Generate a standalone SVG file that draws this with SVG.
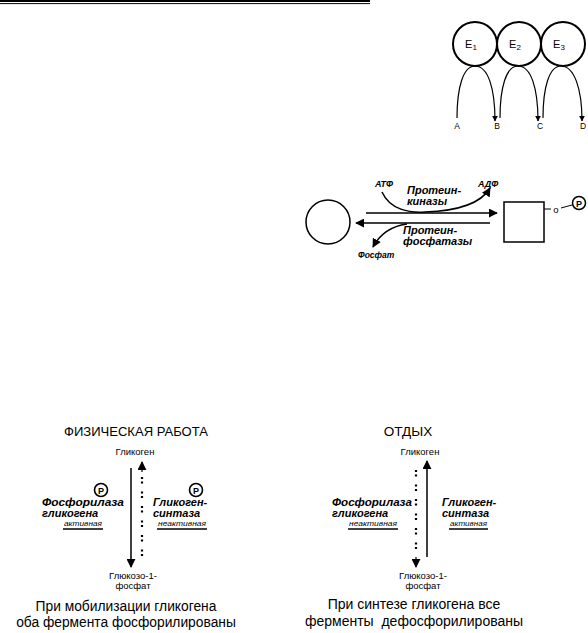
<svg xmlns="http://www.w3.org/2000/svg" width="588" height="633" viewBox="0 0 588 633">
<defs>
<style>
.t{font-family:"Liberation Sans",Arial,sans-serif;fill:#000}
.bi{font-family:"Liberation Sans",Arial,sans-serif;font-weight:bold;font-style:italic;fill:#000}
.it{font-family:"Liberation Sans",Arial,sans-serif;font-style:italic;fill:#000}
.ln{stroke:#000;fill:none}
.dot{stroke:#000;fill:none;stroke-width:2.2;stroke-dasharray:2 2.5 2 8}
</style>
<marker id="ah" viewBox="0 0 10 10" refX="9" refY="5" markerWidth="6" markerHeight="6" markerUnits="userSpaceOnUse" orient="auto">
<path d="M0,0 L10,5 L0,10 Z" fill="#000"/>
</marker>
<marker id="ahb" viewBox="0 0 10 10" refX="9" refY="5" markerWidth="9" markerHeight="9" markerUnits="userSpaceOnUse" orient="auto">
<path d="M0,0 L10,5 L0,10 Z" fill="#000"/>
</marker>
</defs>
<rect width="588" height="633" fill="#fff"/>

<!-- top rule -->
<line x1="0" y1="1" x2="370" y2="1" stroke="#000" stroke-width="2"/>
<line x1="0" y1="3.6" x2="370" y2="3.6" stroke="#000" stroke-width="1"/>

<!-- Enzyme chain -->
<g id="E1"><circle cx="475" cy="44" r="22" class="ln" stroke-width="2"/><text x="471" y="48" class="t" font-size="11" text-anchor="middle">E<tspan font-size="8" dy="2">1</tspan></text></g>
<g id="E2"><circle cx="519" cy="44" r="22" class="ln" stroke-width="2"/><text x="515" y="48" class="t" font-size="11" text-anchor="middle">E<tspan font-size="8" dy="2">2</tspan></text></g>
<g id="E3"><circle cx="563" cy="44" r="22" class="ln" stroke-width="2"/><text x="559" y="48" class="t" font-size="11" text-anchor="middle">E<tspan font-size="8" dy="2">3</tspan></text></g>
<g id="labelsABCD" class="t" font-size="8.5" text-anchor="middle">
<text x="457" y="129">A</text><text x="497" y="129">B</text><text x="540" y="129">C</text><text x="583" y="129">D</text>
</g>
<g id="chain-connectors" class="ln" stroke-width="1.2">
<path d="M457,118 C457,88 463,66 475,66 C488,66 495,88 495,121" marker-end="url(#ah)"/>
<path d="M500,118 C500,88 506,66 518,66 C531,66 538,88 538,121" marker-end="url(#ah)"/>
<path d="M543,118 C543,88 549,66 561,66 C574,66 582,88 582,121" marker-end="url(#ah)"/>
</g>

<!-- Phosphorylation scheme -->
<g id="dephospho"><circle cx="328" cy="222" r="22" class="ln" stroke-width="1.5"/></g>
<g id="phospho">
<rect x="504" y="202" width="40" height="40" class="ln" stroke-width="1.5"/>
<line x1="544" y1="209" x2="551" y2="209" stroke="#000" stroke-width="1"/>
<text x="556" y="213" class="t" font-size="9.5" text-anchor="middle">o</text>
<line x1="561" y1="208" x2="572" y2="205" stroke="#000" stroke-width="1"/>
<circle cx="579" cy="203" r="6.5" class="ln" stroke-width="1.5"/>
<text x="579" y="206.5" class="t" font-size="9" font-weight="bold" text-anchor="middle">P</text>
</g>
<g id="kinase-labels">
<text x="375" y="187" class="bi" font-size="9">АТФ</text>
<text x="478" y="187" class="bi" font-size="9">АДФ</text>
<text x="407" y="194" class="bi" font-size="11">Протеин-</text>
<text x="407" y="205" class="bi" font-size="11">киназы</text>
<text x="403" y="234" class="bi" font-size="11">Протеин-</text>
<text x="403" y="245" class="bi" font-size="11">фосфатазы</text>
<text x="358" y="258" class="bi" font-size="8.5">Фосфат</text>
</g>
<g id="phospho-connectors" class="ln" stroke-width="1.5">
<line x1="366" y1="213" x2="497" y2="213" marker-end="url(#ahb)"/>
<line x1="490" y1="223" x2="356" y2="223" marker-end="url(#ahb)"/>
<path d="M382,192 C390,210 410,213 425,212 C455,211 480,205 490,188" marker-end="url(#ahb)"/>
<path d="M407,224 C392,226 380,234 373,247" marker-end="url(#ahb)"/>
</g>

<!-- Left panel: physical work -->
<g id="work">
<text x="136" y="436" class="t" font-size="13.5" text-anchor="middle" textLength="144" lengthAdjust="spacingAndGlyphs">ФИЗИЧЕСКАЯ  РАБОТА</text>
<text x="135" y="455" class="t" font-size="9.5" text-anchor="middle">Гликоген</text>
<text x="133" y="579" class="t" font-size="9.5" text-anchor="middle">Глюкозо-1-</text>
<text x="133" y="589" class="t" font-size="9.5" text-anchor="middle">фосфат</text>
<circle cx="101" cy="490" r="6.5" class="ln" stroke-width="1.6"/>
<text x="101" y="493.5" class="t" font-size="9" font-weight="bold" text-anchor="middle">P</text>
<circle cx="196" cy="490" r="6.5" class="ln" stroke-width="1.6"/>
<text x="196" y="493.5" class="t" font-size="9" font-weight="bold" text-anchor="middle">P</text>
<text x="42" y="506" class="bi" font-size="11" textLength="82" lengthAdjust="spacingAndGlyphs">Фосфорилаза</text>
<text x="42" y="517" class="bi" font-size="11">гликогена</text>
<text x="64" y="526" class="it" font-size="7.5" textLength="38" lengthAdjust="spacingAndGlyphs">активная</text>
<line x1="63" y1="529" x2="103" y2="529" stroke="#000" stroke-width="1.3"/>
<text x="153" y="506" class="bi" font-size="11">Гликоген-</text>
<text x="153" y="517" class="bi" font-size="11">синтаза</text>
<text x="158" y="526" class="it" font-size="7.5" textLength="48" lengthAdjust="spacingAndGlyphs">неактивная</text>
<line x1="157" y1="529" x2="207" y2="529" stroke="#000" stroke-width="1.3"/>
<text x="126" y="611" class="t" font-size="13.8" text-anchor="middle">При мобилизации гликогена</text>
<text x="126" y="627" class="t" font-size="13.8" text-anchor="middle">оба фермента фосфорилированы</text>
</g>

<!-- Right panel: rest -->
<g id="rest">
<text x="408" y="436" class="t" font-size="13.5" text-anchor="middle">ОТДЫХ</text>
<text x="420" y="455" class="t" font-size="9.5" text-anchor="middle">Гликоген</text>
<text x="423" y="579" class="t" font-size="9.5" text-anchor="middle">Глюкозо-1-</text>
<text x="423" y="589" class="t" font-size="9.5" text-anchor="middle">фосфат</text>
<text x="332" y="506" class="bi" font-size="11" textLength="80" lengthAdjust="spacingAndGlyphs">Фосфорилаза</text>
<text x="332" y="517" class="bi" font-size="11">гликогена</text>
<text x="349" y="526" class="it" font-size="7.5" textLength="48" lengthAdjust="spacingAndGlyphs">неактивная</text>
<line x1="348" y1="529" x2="398" y2="529" stroke="#000" stroke-width="1.3"/>
<text x="442" y="506" class="bi" font-size="11">Гликоген-</text>
<text x="442" y="517" class="bi" font-size="11">синтаза</text>
<text x="450" y="526" class="it" font-size="7.5" textLength="37" lengthAdjust="spacingAndGlyphs">активная</text>
<line x1="449" y1="529" x2="488" y2="529" stroke="#000" stroke-width="1.3"/>
<text x="414" y="609" class="t" font-size="14" text-anchor="middle">При синтезе гликогена все</text>
<text x="414" y="626" class="t" font-size="14" text-anchor="middle" xml:space="preserve">ферменты  дефосфорилированы</text>
</g>

<g id="glycogen-connectors">
<line x1="131" y1="468" x2="131" y2="567" class="ln" stroke-width="1.5" marker-end="url(#ahb)"/>
<line x1="142" y1="556" x2="142" y2="470" class="dot"/>
<line x1="142" y1="472" x2="142" y2="462" class="ln" stroke-width="1.2" marker-end="url(#ahb)"/>
<line x1="427" y1="557" x2="427" y2="461" class="ln" stroke-width="1.5" marker-end="url(#ahb)"/>
<line x1="416" y1="470" x2="416" y2="557" class="dot"/>
<line x1="416" y1="557" x2="416" y2="567" class="ln" stroke-width="1.2" marker-end="url(#ahb)"/>
</g>
</svg>
